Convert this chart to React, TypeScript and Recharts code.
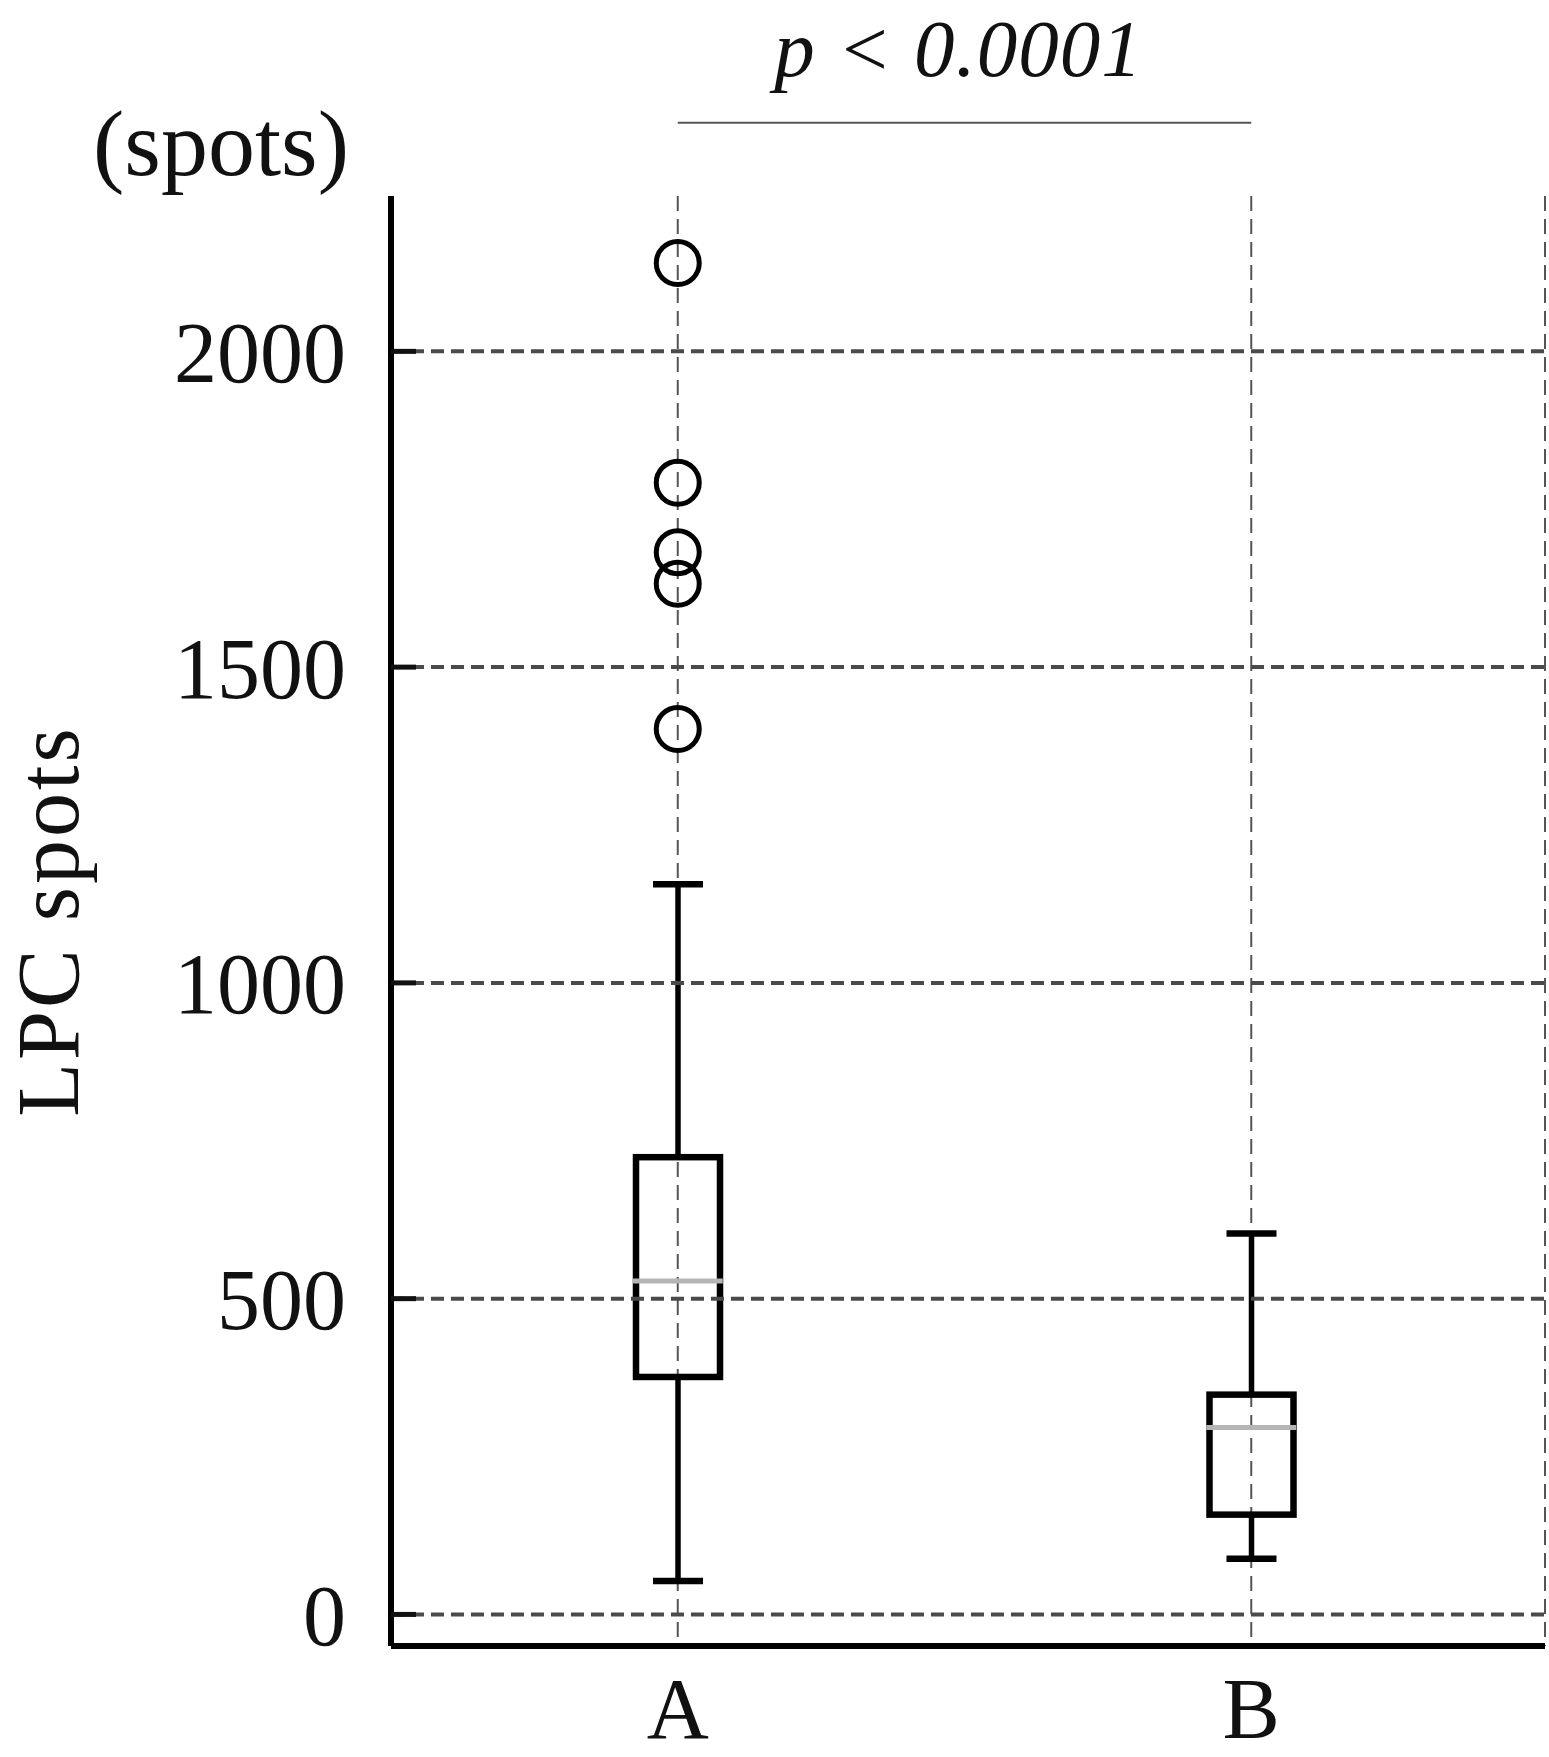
import React from 'react';
import {
  ComposedChart,
  Bar,
  Scatter,
  XAxis,
  YAxis,
  CartesianGrid,
  ReferenceLine,
  Label,
} from 'recharts';

// ---------- data ----------
const categories = ['A', 'B'];
const whiskerLow = [53, 88];
const q1 = [376, 158];
const median = [528, 296];
const q3 = [724, 348];
const whiskerHigh = [1156, 603];

const outlierCategories = ['A', 'A', 'A', 'A', 'A'];
const outlierValues = [2140, 1792, 1682, 1632, 1402];

const yTicks = [0, 500, 1000, 1500, 2000];
const yDomain: [number, number] = [-50, 2246];

const yAxisTitle = 'LPC spots';
const unitText = '(spots)';
const pValueText = 'p < 0.0001';
const pLineValue = 2362;

// ---------- derived tables ----------
const boxData = categories.map((cat, i) => ({
  cat,
  lower: [whiskerLow[i], q1[i]],
  box: [q1[i], q3[i]],
  upper: [q3[i], whiskerHigh[i]],
  median: median[i],
}));

const outlierData = outlierValues.map((v, i) => ({ cat: outlierCategories[i], value: v }));

const FONT = "'Liberation Serif', 'Times New Roman', serif";

// ---------- shapes ----------
const UpperWhisker = (props: any) => {
  const { x, y, width, height } = props;
  if (x == null || y == null) return null;
  const cx = x + width / 2;
  return (
    <g>
      <line x1={cx} x2={cx} y1={y} y2={y + height} stroke="#000" strokeWidth={5.5} />
      <line x1={x} x2={x + width} y1={y} y2={y} stroke="#000" strokeWidth={6.5} />
    </g>
  );
};

const LowerWhisker = (props: any) => {
  const { x, y, width, height } = props;
  if (x == null || y == null) return null;
  const cx = x + width / 2;
  return (
    <g>
      <line x1={cx} x2={cx} y1={y} y2={y + height} stroke="#000" strokeWidth={5.5} />
      <line x1={x} x2={x + width} y1={y + height} y2={y + height} stroke="#000" strokeWidth={6.5} />
    </g>
  );
};

const BoxShape = (props: any) => {
  const { x, y, width, height } = props;
  if (x == null || y == null) return null;
  return (
    <rect x={x} y={y} width={width} height={height} fill="none" stroke="#000" strokeWidth={6.5} />
  );
};

const MedianShape = (props: any) => {
  const { cx, cy } = props;
  if (cx == null || cy == null) return null;
  return <line x1={cx - 45} x2={cx + 45} y1={cy} y2={cy} stroke="#b5b5b5" strokeWidth={5} />;
};

const OutlierShape = (props: any) => {
  const { cx, cy } = props;
  if (cx == null || cy == null) return null;
  return <circle cx={cx} cy={cy} r={21.5} fill="none" stroke="#000" strokeWidth={5} />;
};

export default function App() {
  return (
    <div style={{ position: 'absolute', left: 0, top: 0, width: 1549, height: 1757 }}>
      <ComposedChart
        width={1549}
        height={1757}
        data={boxData}
        margin={{ top: 196, right: 4, left: 0, bottom: 0 }}
      >
        <CartesianGrid
          horizontal={false}
          stroke="#555"
          strokeWidth={2}
          strokeDasharray="15 8"
        />
        {yTicks.map((t) => (
          <ReferenceLine
            key={`grid-${t}`}
            y={t}
            stroke="#4a4a4a"
            strokeWidth={4}
            strokeDasharray="13 7"
          />
        ))}
        <XAxis
          dataKey="cat"
          type="category"
          allowDuplicatedCategory={false}
          height={111}
          padding={{ left: 0, right: 7 }}
          tickLine={false}
          tickSize={0}
          tickMargin={31}
          axisLine={{ stroke: '#000', strokeWidth: 6 }}
          tick={{ fill: '#111', fontFamily: FONT, fontSize: 86 }}
        />
        <XAxis xAxisId="lowerAxis" dataKey="cat" type="category" allowDuplicatedCategory={false} padding={{ left: 0, right: 7 }} hide />
        <XAxis xAxisId="boxAxis" dataKey="cat" type="category" allowDuplicatedCategory={false} padding={{ left: 0, right: 7 }} hide />
        <XAxis xAxisId="upperAxis" dataKey="cat" type="category" allowDuplicatedCategory={false} padding={{ left: 0, right: 7 }} hide />
        <YAxis
          type="number"
          domain={yDomain}
          ticks={yTicks}
          width={391}
          tickSize={-25}
          tickMargin={70}
          tickLine={{ stroke: '#111', strokeWidth: 5 }}
          axisLine={{ stroke: '#000', strokeWidth: 6 }}
          tick={{ fill: '#111', fontFamily: FONT, fontSize: 86 }}
        >
          <Label
            value={yAxisTitle}
            angle={-90}
            position="insideLeft"
            offset={47}
            style={{ textAnchor: 'middle', letterSpacing: 3 }}
            fill="#111"
            fontFamily={FONT}
            fontSize={88}
          />
        </YAxis>

        <Bar
          xAxisId="lowerAxis"
          dataKey="lower"
          barSize={50}
          shape={<LowerWhisker />}
          isAnimationActive={false}
        />
        <Bar
          xAxisId="upperAxis"
          dataKey="upper"
          barSize={50}
          shape={<UpperWhisker />}
          isAnimationActive={false}
        />
        <Bar
          xAxisId="boxAxis"
          dataKey="box"
          barSize={84}
          shape={<BoxShape />}
          isAnimationActive={false}
        />
        <Scatter dataKey="median" shape={<MedianShape />} isAnimationActive={false} />
        <Scatter data={outlierData} dataKey="value" shape={<OutlierShape />} isAnimationActive={false} />

        <ReferenceLine
          segment={[
            { x: 'A', y: pLineValue },
            { x: 'B', y: pLineValue },
          ]}
          ifOverflow="visible"
          stroke="#555"
          strokeWidth={2}
        >
          <Label
            value={pValueText}
            position="top"
            offset={47}
            dx={-6}
            fill="#111"
            fontFamily={FONT}
            fontSize={81}
            fontStyle="italic"
            style={{ letterSpacing: 1 }}
          />
        </ReferenceLine>
      </ComposedChart>
      <svg
        width={1549}
        height={300}
        style={{ position: 'absolute', left: 0, top: 0, pointerEvents: 'none' }}
      >
        <text x={221} y={175} textAnchor="middle" fill="#111" fontFamily={FONT} fontSize={94}>
          {unitText}
        </text>
      </svg>
    </div>
  );
}
